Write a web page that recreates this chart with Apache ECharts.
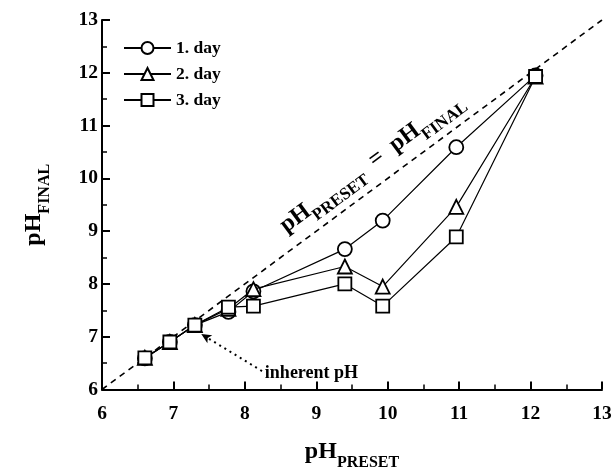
<!DOCTYPE html>
<html>
<head>
<meta charset="utf-8">
<script src="https://cdn.jsdelivr.net/npm/echarts@6/dist/echarts.min.js"></script>
<style>
  html, body { margin: 0; padding: 0; background: #fff; }
  #chart { width: 615px; height: 467px; }
</style>
</head>
<body>
<div id="chart"></div>
<script>
// preset pH of each sample
const presetPH = [6.6, 6.95, 7.3, 7.77, 8.12, 9.4, 9.93, 10.96, 12.07];
// final pH measured after each day
const day1 = [6.59, 6.9, 7.22, 7.47, 7.86, 8.66, 9.20, 10.59, 11.95];
const day2 = [6.6, 6.9, 7.22, 7.53, 7.90, 8.33, 7.95, 9.46, 11.93];
const day3 = [6.6, 6.9, 7.22, 7.56, 7.58, 8.0, 7.58, 8.89, 11.93];
const seriesNames = ['1. day', '2. day', '3. day'];
const seriesSymbols = ['circle', 'triangle', 'rect'];
// identity line pH_PRESET = pH_FINAL
const identity = [[6, 6], [13, 13]];
// arrow pointing to the inherent pH sample
const arrowFrom = [8.24, 6.35];
const arrowTo = [7.39, 7.05];
const noteAnchor = [8.28, 6.31];
const diagAnchor = [9.77, 10.3];

const FONT = 'Liberation Serif';
const toPairs = ys => presetPH.map((x, i) => [x, ys[i]]);

const axisCommon = {
  type: 'value',
  interval: 1,
  axisLine: { show: true, lineStyle: { color: '#000', width: 2 } },
  axisTick: { show: true, inside: true, length: 8, lineStyle: { color: '#000', width: 2 } },
  minorTick: { show: true, splitNumber: 2, length: 5, lineStyle: { color: '#000', width: 1.5 } },
  splitLine: { show: false },
  axisLabel: { color: '#000', fontFamily: FONT, fontWeight: 'bold', fontSize: 19.5 },
  nameLocation: 'middle'
};

const titleRich = {
  m: { fontFamily: FONT, fontWeight: 'bold', fontSize: 24, color: '#000', lineHeight: 38 },
  s: { fontFamily: FONT, fontWeight: 'bold', fontSize: 16, color: '#000', lineHeight: 16, verticalAlign: 'bottom' }
};

const daySeries = [day1, day2, day3].map((ys, k) => ({
  name: seriesNames[k],
  type: 'line',
  data: toPairs(ys),
  symbol: seriesSymbols[k],
  symbolSize: k === 2 ? 13 : 14,
  showSymbol: true,
  lineStyle: { color: '#000', width: 1.2 },
  itemStyle: { color: '#fff', borderColor: '#000', borderWidth: 1.8 },
  z: 3 + k,
  animation: false
}));

const chart = echarts.init(document.getElementById('chart'), null, { renderer: 'canvas' });

chart.setOption({
  animation: false,
  backgroundColor: '#fff',
  grid: { left: 102, right: 13, top: 20, bottom: 77.5, containLabel: false, outerBoundsMode: 'none' },
  xAxis: Object.assign({}, axisCommon, {
    min: 6, max: 13,
    axisLabel: Object.assign({}, axisCommon.axisLabel, { margin: 14 }),
    name: '{m|pH}{s|PRESET}',
    nameGap: 43,
    nameTextStyle: { rich: titleRich }
  }),
  yAxis: Object.assign({}, axisCommon, {
    min: 6, max: 13,
    axisLabel: Object.assign({}, axisCommon.axisLabel, { margin: 4 }),
    name: '{m|pH}{s|FINAL}',
    nameGap: 49,
    nameRotate: 90,
    nameTextStyle: { rich: titleRich }
  }),
  legend: {
    data: seriesNames,
    orient: 'vertical',
    left: 118,
    top: 34,
    itemWidth: 47,
    itemHeight: 15,
    itemGap: 8,
    textStyle: { color: '#000', fontFamily: FONT, fontWeight: 'bold', fontSize: 17.5 }
  },
  series: [
    {
      name: 'identity',
      type: 'line',
      data: identity,
      symbol: 'none',
      lineStyle: { color: '#000', width: 1.6, type: [6, 5] },
      z: 1,
      silent: true,
      markLine: {
        silent: true,
        symbol: ['none', 'arrow'],
        symbolSize: [7, 10],
        label: { show: false },
        lineStyle: { color: '#000', width: 2, type: [2, 4] },
        data: [[{ coord: arrowFrom }, { coord: arrowTo }]]
      }
    }
  ].concat(daySeries)
});

// text annotations placed at data coordinates
const diagPos = chart.convertToPixel({ gridIndex: 0 }, diagAnchor);
const notePos = chart.convertToPixel({ gridIndex: 0 }, noteAnchor);
const p0 = chart.convertToPixel({ gridIndex: 0 }, [6, 6]);
const p1 = chart.convertToPixel({ gridIndex: 0 }, [13, 13]);
const angle = Math.atan2(p0[1] - p1[1], p1[0] - p0[0]);

chart.setOption({
  graphic: [
    {
      type: 'text',
      x: diagPos[0],
      y: diagPos[1],
      rotation: angle,
      style: {
        text: '{m|pH}{s|PRESET}{m|  =  pH}{s|FINAL}',
        align: 'center',
        verticalAlign: 'middle',
        rich: {
          m: { fontFamily: FONT, fontWeight: 'bold', fontSize: 24, fill: '#000', lineHeight: 38 },
          s: { fontFamily: FONT, fontWeight: 'bold', fontSize: 17, fill: '#000', lineHeight: 17, verticalAlign: 'bottom' }
        }
      },
      z: 10
    },
    {
      type: 'text',
      x: notePos[0],
      y: notePos[1],
      style: {
        text: 'inherent pH',
        fontFamily: FONT,
        fontWeight: 'bold',
        fontSize: 18,
        fill: '#000',
        align: 'left',
        verticalAlign: 'middle'
      },
      z: 10
    }
  ]
});
</script>
</body>
</html>
